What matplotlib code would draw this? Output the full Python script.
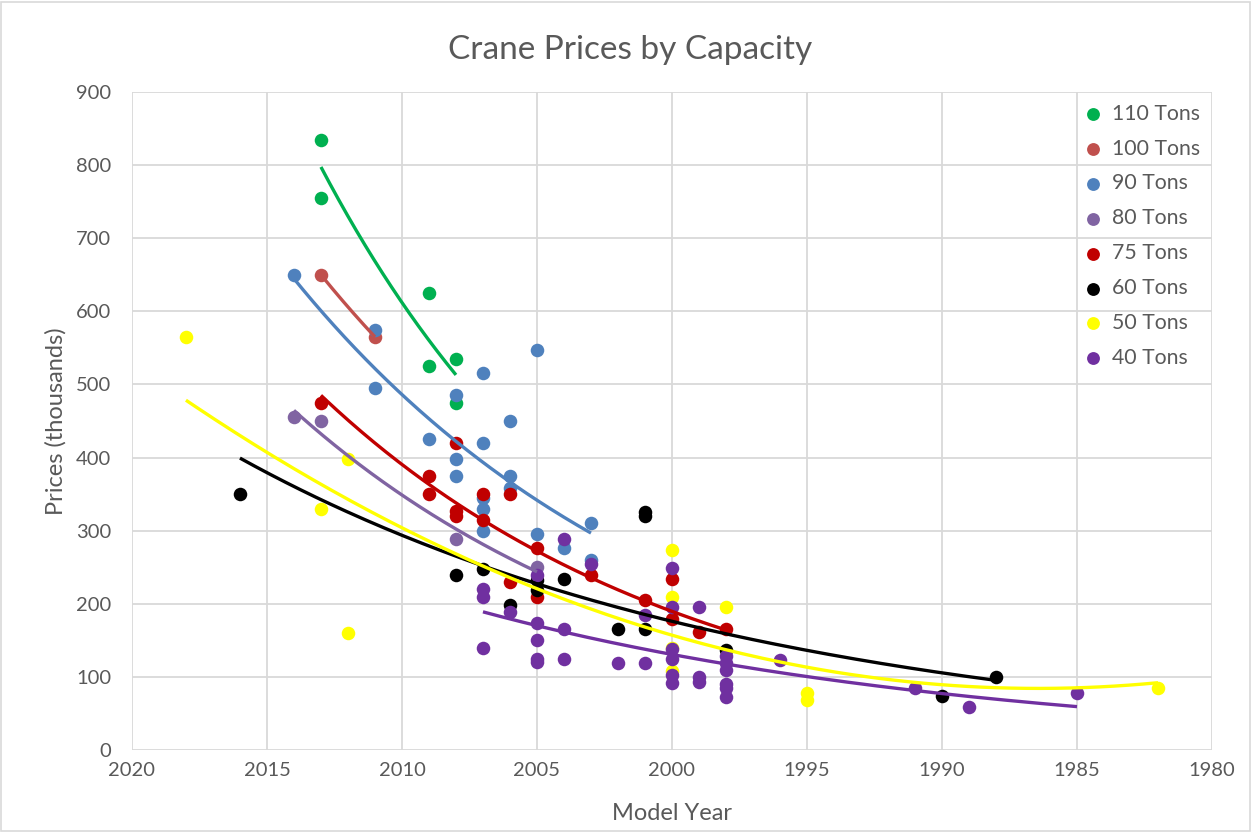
import numpy as np
import matplotlib
matplotlib.use("Agg")
import matplotlib.pyplot as plt
from matplotlib.patches import Rectangle

plt.rcParams['font.family'] = ['Lato', 'DejaVu Sans']

# data (model year, price in thousands)
t110_year = [2013, 2013, 2009, 2009, 2008, 2008]
t110_price = [835, 755, 625, 525, 535, 475]

t100_year = [2013, 2011]
t100_price = [650, 565]

t90_year = [2014, 2011, 2011, 2009, 2008, 2008, 2008, 2007, 2007, 2007, 2007, 2007,
            2006, 2006, 2006, 2005, 2005, 2004, 2003, 2003]
t90_price = [650, 575, 495, 425, 485, 398, 375, 515, 420, 345, 329, 300,
             450, 375, 358, 547, 295, 276, 310, 260]

t80_year = [2014, 2013, 2008, 2005]
t80_price = [455, 450, 289, 250]

t75_year = [2013, 2009, 2009, 2008, 2008, 2008, 2007, 2007, 2006, 2006, 2005, 2005,
            2003, 2001, 2000, 2000, 1999, 1998]
t75_price = [475, 375, 350, 420, 327, 320, 350, 315, 350, 230, 276, 209,
             240, 205, 234, 179, 162, 165]

t60_year = [2016, 2008, 2007, 2006, 2005, 2005, 2004, 2002, 2001, 2001, 2001, 1998, 1990, 1988]
t60_price = [350, 240, 248, 198, 232, 219, 234, 165, 165, 325, 320, 137, 74, 100]

t50_year = [2018, 2013, 2012, 2012, 2000, 2000, 2000, 2000, 1998, 1995, 1995, 1982]
t50_price = [565, 330, 398, 160, 274, 209, 140, 108, 195, 78, 69, 85]

t40_year = [2007, 2007, 2007, 2006, 2005, 2005, 2005, 2005, 2005, 2004, 2004, 2004, 2003,
            2002, 2001, 2001, 2000, 2000, 2000, 2000, 2000, 2000, 1999, 1999, 1999,
            1998, 1998, 1998, 1998, 1998, 1998, 1996, 1991, 1989, 1985]
t40_price = [220, 209, 140, 189, 239, 174, 150, 125, 120, 289, 166, 124, 255,
             119, 119, 185, 249, 195, 138, 124, 103, 92, 195, 100, 93,
             128, 119, 109, 90, 85, 72, 123, 85, 59, 78]

series = [
    ("110 Tons", t110_year, t110_price, "#00B050", "exp"),
    ("100 Tons", t100_year, t100_price, "#C0504D", "exp"),
    ("90 Tons", t90_year, t90_price, "#4F81BD", "exp"),
    ("80 Tons", t80_year, t80_price, "#8064A2", "exp"),
    ("75 Tons", t75_year, t75_price, "#C00000", "exp"),
    ("60 Tons", t60_year, t60_price, "#000000", "exp"),
    ("50 Tons", t50_year, t50_price, "#FFFF00", "poly"),
    ("40 Tons", t40_year, t40_price, "#7030A0", "exp"),
]

fig = plt.figure(figsize=(12.53, 8.32), dpi=100)
ax = fig.add_axes([0.1053, 0.0986, 0.8620, 0.7908])

for name, yrs, prices, color, kind in series:
    ax.scatter(yrs, prices, s=95, color=color, label=name, zorder=3, linewidths=0)

# trend lines, fitted like Excel does
for name, yrs, prices, color, kind in series:
    x = np.array(yrs, dtype=float)
    y = np.array(prices, dtype=float)
    xs = np.linspace(x.min(), x.max(), 200)
    if kind == "exp":
        b, a = np.polyfit(x - 2000, np.log(y), 1)
        ys = np.exp(a + b * (xs - 2000))
    else:
        c = np.polyfit(x - 2000, y, 2)
        ys = np.polyval(c, xs - 2000)
    ax.plot(xs, ys, color=color, lw=2.4, zorder=4, solid_capstyle='butt')

ax.set_xlim(2020, 1980)
ax.set_ylim(0, 900)
ax.set_xticks(np.arange(2020, 1979, -5))
ax.set_yticks(np.arange(0, 901, 100))
ax.grid(True, color="#D9D9D9", lw=1.3)
ax.set_axisbelow(True)
for s in ax.spines.values():
    s.set_visible(False)
ax.tick_params(length=0, labelsize=14.5, colors="#595959")
ax.tick_params(axis='x', pad=9)
ax.tick_params(axis='y', pad=15)

fig.text(0.503, 0.94, "Crane Prices by Capacity", fontsize=24, color="#595959",
         ha="center", va="center")
ax.set_xlabel("Model Year", fontsize=17, color="#595959", labelpad=17)
ax.set_ylabel("Prices (thousands)", fontsize=17, color="#595959", labelpad=7)

leg = ax.legend(loc="upper right", bbox_to_anchor=(1.0, 1.0), frameon=False,
                fontsize=15.3, labelspacing=0.7, handlelength=1.0, handletextpad=0.4,
                markerscale=0.95, borderaxespad=0.15)
for t in leg.get_texts():
    t.set_color("#595959")

fig.add_artist(Rectangle((0.001, 0.001), 0.997, 0.997, transform=fig.transFigure,
                         fill=False, edgecolor="#D9D9D9", lw=1.2))

fig.savefig("out.png", dpi=100)
